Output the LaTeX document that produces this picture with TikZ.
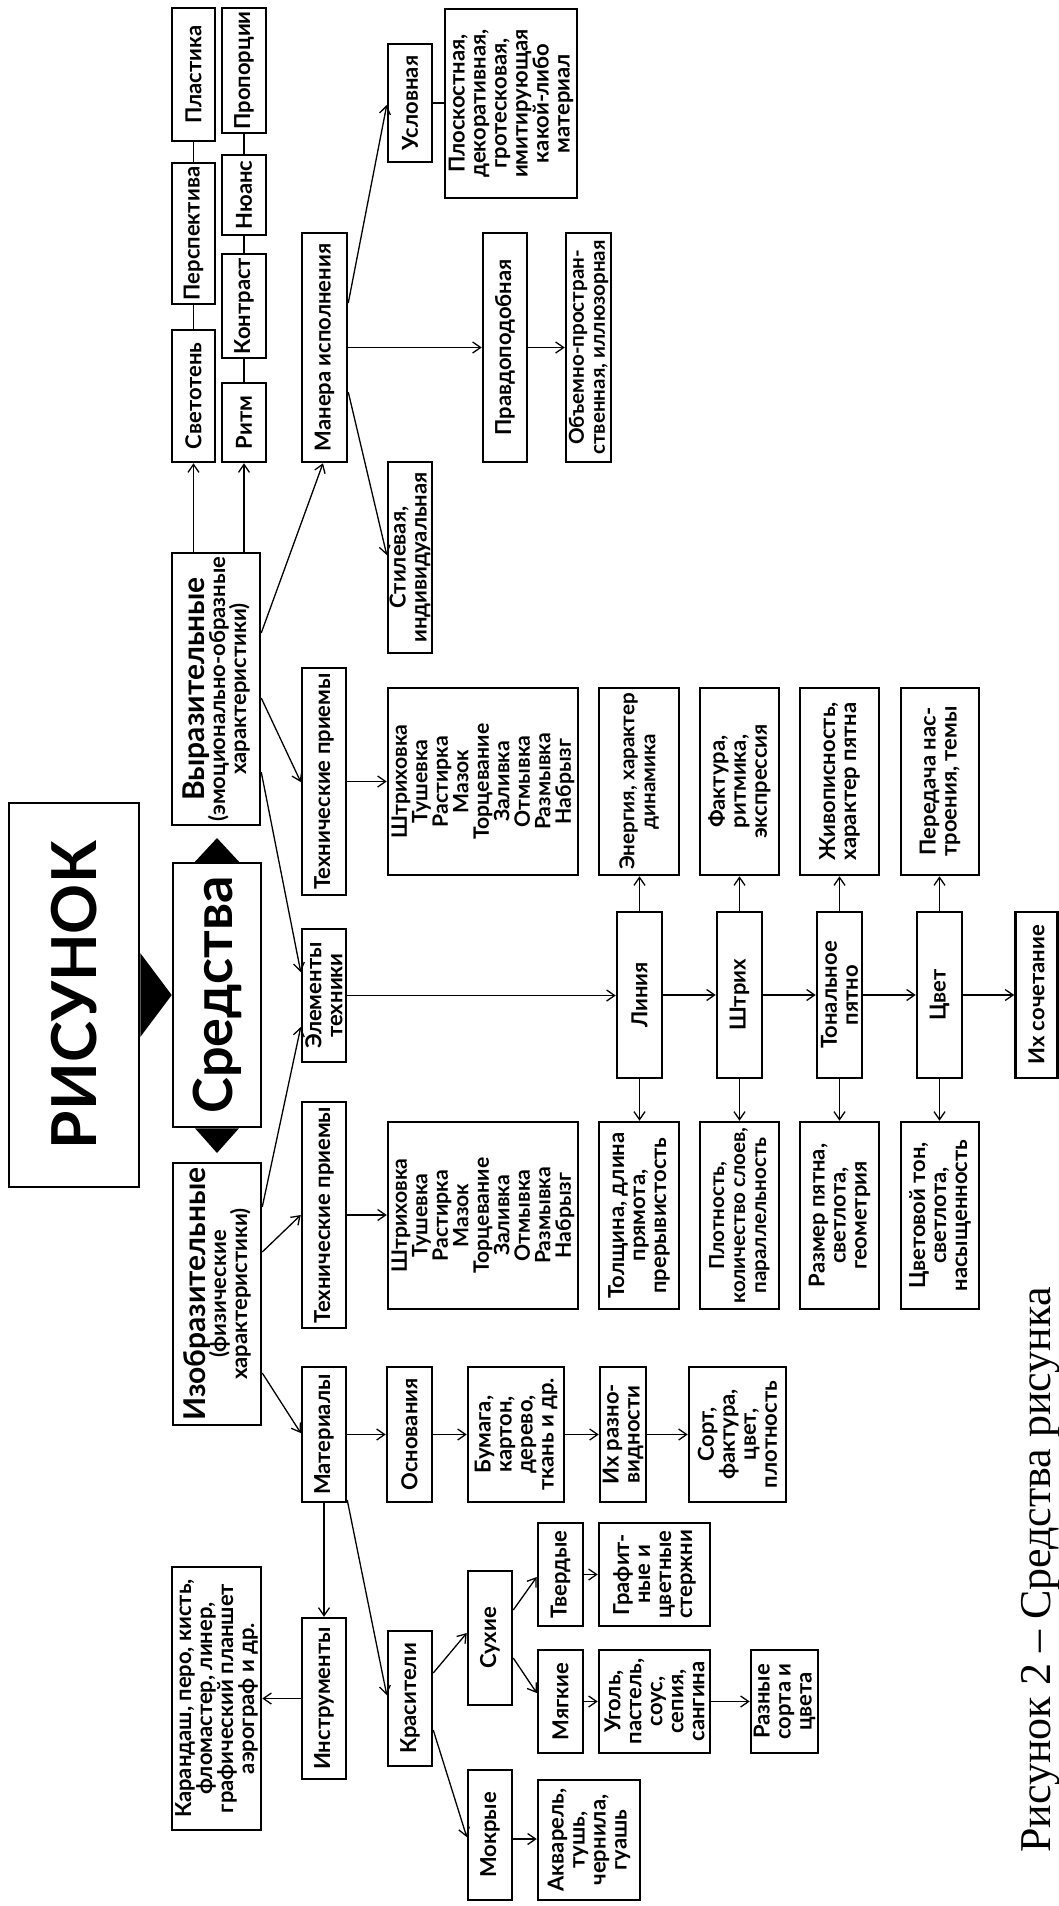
\documentclass[tikz,border=0pt]{standalone}
\usepackage{fontspec}
\setmainfont{Lato}
\newfontfamily\capfont{Liberation Serif}
\usetikzlibrary{arrows.meta}
\newcommand{\fsn}{\fontsize{11}{10.5}\selectfont\bfseries\lineskiplimit=-100pt\relax}
\newcommand{\fss}{\fontsize{10.3}{10.5}\selectfont\bfseries\lineskiplimit=-100pt\relax}
\newcommand{\fst}{\fontsize{11}{10.5}\selectfont\bfseries\lineskiplimit=-100pt\relax}
\newcommand{\fsb}{\fontsize{11}{11}\selectfont\bfseries}
\newcommand{\fsl}{\fontsize{10.6}{10.25}\selectfont\bfseries\lineskiplimit=-100pt\relax}
\newcommand{\bxnode}[7][]{\node[bx,minimum width=\dimexpr #5pt/2\relax,minimum height=\dimexpr #6pt/2\relax,#1] (#2) at (#3,#4) {#7};}
\begin{document}
\begin{tikzpicture}[x=0.5pt,y=-0.5pt,
 bx/.style={draw,line width=1.25pt,rotate=90,inner sep=0pt,align=center,font=\fsb},
 multi/.style={font=\fsn},
 small/.style={font=\fss},
 ttl/.style={font=\fst},
 lst/.style={font=\fsl},
 con/.style={line width=0.65pt},
 arr/.style={con,-{Straight Barb[length=4pt,width=5.5pt]}}]
\useasboundingbox (0,0) rectangle (1059,1906);

% ---- top cluster
\bxnode{plast}{193.5}{74.5}{133}{43}{Пластика}
\bxnode{persp}{193.5}{233.5}{141}{43}{Перспектива}
\bxnode{svet}{193.5}{396}{132}{43}{Светотень}
\bxnode{prop}{244}{70.5}{125}{44}{Пропорции}
\bxnode{nuans}{244}{195}{80}{44}{Нюанс}
\bxnode{kontr}{244}{306}{104}{44}{Контраст}
\bxnode{ritm}{244}{422.5}{79}{44}{Ритм}
\bxnode{manera}{324.5}{347.5}{229}{45}{Манера исполнения}
\bxnode{uslov}{410}{103}{118}{44}{Условная}
\bxnode[multi]{plosk}{511}{103.5}{189}{132}{Плоскостная,\\декоративная,\\гротесковая,\\имитирующая\\какой-либо\\материал}
\bxnode{pravdo}{505}{347.5}{229}{44}{Правдоподобная}
\bxnode[small]{obyem}{588.5}{347.5}{229}{45}{Объемно-простран-\\ственная, иллюзорная}
\bxnode[multi]{stil}{410}{557.5}{191}{44}{Стилевая,\\индивидуальная}

% ---- main column
\bxnode[ttl]{vyraz}{216}{689}{272}{88}{{\fontsize{15}{15}\selectfont Выразительные}\\(эмоционально-образные\\характеристики)}
\bxnode{sredstva}{217}{995}{264}{88}{\fontsize{27}{27}\selectfont Средства}
\bxnode[ttl]{izobr}{217}{1294}{262}{88}{{\fontsize{15}{15}\selectfont Изобразительные}\\(физические\\характеристики)}
\bxnode{risunok}{74}{995}{384}{130}{\fontsize{31}{31}\selectfont РИСУНОК}

% ---- techniques
\bxnode{techR}{324}{781.5}{227}{44}{Технические приемы}
\bxnode[lst]{listR}{483}{781.5}{187}{190}{Штриховка\\Тушевка\\Растирка\\Мазок\\Торцевание\\Заливка\\Отмывка\\Размывка\\Набрызг}
\bxnode[multi]{elem}{324}{995.5}{133}{44}{Элементы\\техники}
\bxnode{techL}{324}{1215}{226}{44}{Технические приемы}
\bxnode[lst]{listL}{483}{1215.5}{187}{190}{Штриховка\\Тушевка\\Растирка\\Мазок\\Торцевание\\Заливка\\Отмывка\\Размывка\\Набрызг}

% ---- chain
\bxnode{liniya}{639.5}{995}{166}{45}{Линия}
\bxnode{shtrih}{739.5}{995}{166}{45}{Штрих}
\bxnode[multi]{tonal}{839.5}{995}{166}{45}{Тональное\\пятно}
\bxnode{cvet}{939.5}{995}{166}{45}{Цвет}
\bxnode{sochet}{1036.5}{995}{166}{42}{Их сочетание}

\bxnode[small]{energ}{639}{781.5}{187}{80}{Энергия, характер\\динамика}
\bxnode[multi]{faktura}{739.5}{781.5}{187}{79}{Фактура,\\ритмика,\\экспрессия}
\bxnode[multi]{zhivop}{839.5}{781.5}{187}{79}{Живописность,\\характер пятна}
\bxnode[multi]{pered}{940}{781.5}{187}{78}{Передача нас-\\троения, темы}

\bxnode[multi]{tolsh}{639}{1215.5}{187}{80}{Толщина, длина\\прямота,\\прерывистость}
\bxnode[small]{plotn}{739.5}{1215.5}{187}{79}{Плотность,\\количество слоев,\\параллельность}
\bxnode[multi]{razmer}{839.5}{1215.5}{187}{79}{Размер пятна,\\светлота,\\геометрия}
\bxnode[multi]{cvetton}{940}{1215.5}{187}{78}{Цветовой тон,\\светлота,\\насыщенность}

% ---- materials
\bxnode{mater}{324}{1434.5}{135}{44}{Материалы}
\bxnode{osnov}{409.5}{1434.5}{135}{45}{Основания}
\bxnode[multi]{bumaga}{516}{1434.5}{135}{96}{Бумага,\\картон,\\дерево,\\ткань и др.}
\bxnode[multi]{razn}{623}{1434.5}{135}{46}{Их разно-\\видности}
\bxnode[multi]{sort}{737.5}{1434.5}{135}{97}{Сорт,\\фактура,\\цвет,\\плотность}

\bxnode{instr}{324}{1698.5}{161}{44}{Инструменты}
\bxnode[multi]{karand}{216.5}{1698.5}{263}{89}{Карандаш, перо, кисть,\\фломастер, линер,\\графический планшет\\аэрограф и др.}
\bxnode{krasit}{410}{1698.5}{135}{44}{Красители}
\bxnode{suhie}{490}{1638}{134}{44}{Сухие}
\bxnode{mokrye}{490}{1835}{130}{44}{Мокрые}
\bxnode[multi]{akvarel}{589}{1840}{120}{102}{Акварель,\\тушь,\\чернила,\\гуашь}
\bxnode{tverd}{560.5}{1574.5}{103}{45}{Твердые}
\bxnode[multi]{grafit}{654.5}{1574.5}{103}{111}{Графит-\\ные и\\цветные\\стержни}
\bxnode{myagk}{560.5}{1701.5}{103}{45}{Мягкие}
\bxnode[multi]{ugol}{654.5}{1701.5}{103}{111}{Уголь,\\пастель,\\соус,\\сепия,\\сангина}
\bxnode[multi]{raznye}{784.5}{1701.5}{103}{67}{Разные\\сорта и\\цвета}

% ---- caption
\node[rotate=90,anchor=base west,inner sep=0pt,font=\capfont\fontsize{22}{24}\selectfont] (cap) at (1050,1853) {Рисунок 2 – Средства рисунка};

% ---- triangles
\fill (risunok.south |- 0,953) -- (sredstva.north |- 0,995) -- (risunok.south |- 0,1037) -- cycle;
\fill (sredstva.east -| 195,0) -- (217,838) -- (sredstva.east -| 239,0) -- cycle;
\fill (sredstva.west -| 195,0) -- (217,1153) -- (sredstva.west -| 239,0) -- cycle;

% ---- connectors: top
\draw[con] (plast.west) -- (persp.east);
\draw[con] (persp.west) -- (svet.east);
\draw[con] (prop.west) -- (nuans.east);
\draw[con] (nuans.west) -- (kontr.east);
\draw[con] (kontr.west) -- (ritm.east);
\draw[arr] (vyraz.east -| svet) -- (svet.west);
\draw[arr] (vyraz.east -| ritm) -- (ritm.west);
\draw[arr] (vyraz.south |- 0,633) -- (manera.west -| 323,0);
\draw[arr] (manera.south |- 0,303) -- (uslov.north |- 0,105);
\draw[arr] (manera.south) -- (pravdo.north);
\draw[arr] (pravdo.south) -- (obyem.north);
\draw[arr] (manera.south |- 0,392) -- (stil.north |- 0,555);
\draw[con] (uslov.south) -- (plosk.north |- uslov.south);

\draw[arr] (vyraz.south |- 0,698) -- (techR.north |- 0,782);
\draw[arr] (techR.south) -- (listR.north);
\draw[arr] (vyraz.south |- 0,772) -- (elem.north |- 0,972);
\draw[arr] (izobr.south |- 0,1207) -- (elem.north |- 0,1027);
\draw[arr] (izobr.south |- 0,1252) -- (techL.north |- 0,1215);
\draw[arr] (techL.south) -- (listL.north |- techL.south);
\draw[arr] (izobr.south |- 0,1373) -- (mater.north |- 0,1433);

% ---- chain
\draw[arr] (elem.south) -- (elem.south -| liniya.north);
\draw[arr] (liniya.south) -- (shtrih.north);
\draw[arr] (shtrih.south) -- (tonal.north);
\draw[arr] (tonal.south) -- (cvet.north);
\draw[arr] (cvet.south) -- (sochet.north);
\draw[arr] (liniya.east) -- (liniya.east |- energ.west);
\draw[arr] (shtrih.east) -- (shtrih.east |- faktura.west);
\draw[arr] (tonal.east) -- (tonal.east |- zhivop.west);
\draw[arr] (cvet.east) -- (cvet.east |- pered.west);
\draw[arr] (liniya.west) -- (liniya.west |- tolsh.east);
\draw[arr] (shtrih.west) -- (shtrih.west |- plotn.east);
\draw[arr] (tonal.west) -- (tonal.west |- razmer.east);
\draw[arr] (cvet.west) -- (cvet.west |- cvetton.east);

% ---- materials
\draw[arr] (mater.south) -- (osnov.north);
\draw[arr] (osnov.south) -- (bumaga.north);
\draw[arr] (bumaga.south) -- (razn.north);
\draw[arr] (razn.south) -- (sort.north);
\draw[arr] (mater.west) -- (instr.east);
\draw[arr] (instr.north) -- (karand.south);
\draw[arr] (mater.south |- 0,1500) -- (krasit.north |- 0,1695);
\draw[arr] (krasit.south |- 0,1673) -- (suhie.north |- 0,1633);
\draw[arr] (krasit.south |- 0,1730) -- (mokrye.north |- 0,1837);
\draw[arr] (suhie.south |- 0,1610) -- (tverd.north |- 0,1577);
\draw[arr] (suhie.south |- 0,1658) -- (myagk.north |- 0,1693);
\draw[arr] (tverd.south) -- (grafit.north);
\draw[arr] (myagk.south) -- (ugol.north);
\draw[arr] (ugol.south) -- (raznye.north);
\draw[arr] (mokrye.south |- 0,1839) -- (akvarel.north |- 0,1839);
\end{tikzpicture}
\end{document}
